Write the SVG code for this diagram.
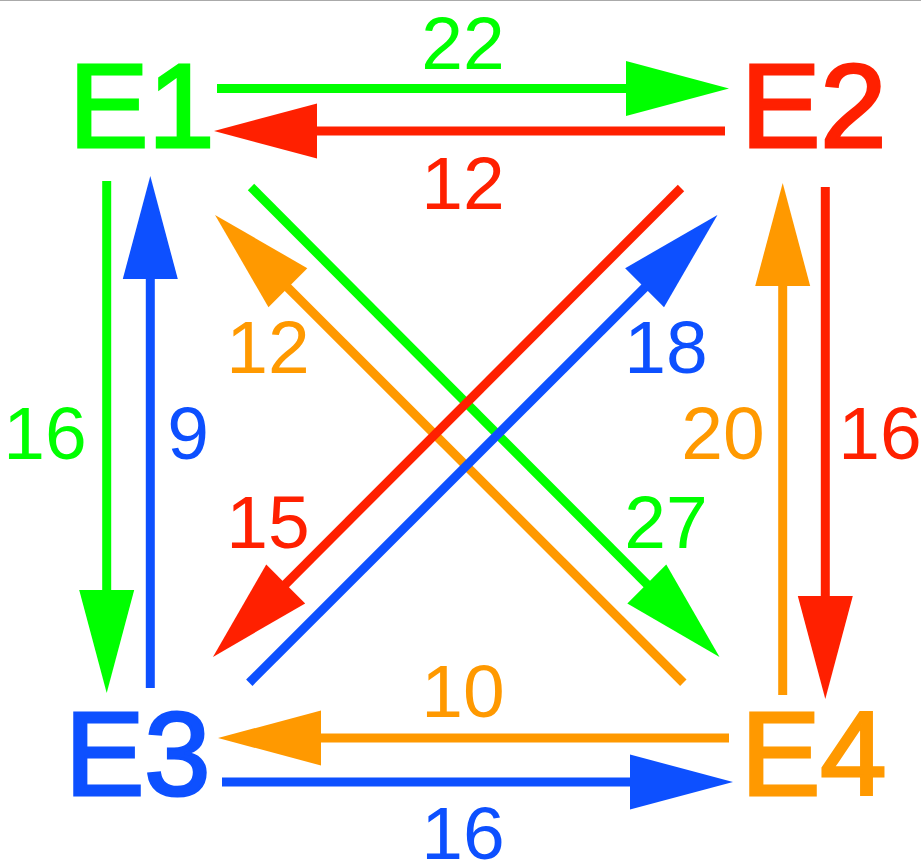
<svg xmlns="http://www.w3.org/2000/svg" width="921" height="861" viewBox="0 0 921 861">
<style>
.g{fill:#00ff00}.r{fill:#ff2000}.b{fill:#0d50ff}.o{fill:#ff9900}
.node{font-family:"Liberation Sans",Arial,sans-serif;font-size:119px;stroke-width:3;stroke-linejoin:miter}
.lbl{font-family:"Liberation Sans",Arial,sans-serif;font-size:75px;text-anchor:middle}
.c{fill:none;stroke-width:9;stroke-linecap:butt}
.cg{stroke:#00ff00;marker-end:url(#hg)}.cr{stroke:#ff2000;marker-end:url(#hr)}
.cb{stroke:#0d50ff;marker-end:url(#hb)}.co{stroke:#ff9900;marker-end:url(#ho)}
</style>
<defs>
<marker id="hg" markerUnits="userSpaceOnUse" markerWidth="110" markerHeight="60" refX="0" refY="0" viewBox="-2 -30 106 60" orient="auto" overflow="visible"><path d="M-1,-27.5L102,0L-1,27.5Z" fill="#00ff00"/></marker>
<marker id="hr" markerUnits="userSpaceOnUse" markerWidth="110" markerHeight="60" refX="0" refY="0" viewBox="-2 -30 106 60" orient="auto" overflow="visible"><path d="M-1,-27.5L102,0L-1,27.5Z" fill="#ff2000"/></marker>
<marker id="hb" markerUnits="userSpaceOnUse" markerWidth="110" markerHeight="60" refX="0" refY="0" viewBox="-2 -30 106 60" orient="auto" overflow="visible"><path d="M-1,-27.5L102,0L-1,27.5Z" fill="#0d50ff"/></marker>
<marker id="ho" markerUnits="userSpaceOnUse" markerWidth="110" markerHeight="60" refX="0" refY="0" viewBox="-2 -30 106 60" orient="auto" overflow="visible"><path d="M-1,-27.5L102,0L-1,27.5Z" fill="#ff9900"/></marker>
</defs>
<rect width="921" height="861" fill="#ffffff"/>
<line x1="0" y1="0.5" x2="921" y2="0.5" stroke="#aaaaaa" stroke-width="1"/>
<g id="connectors">
<line class="c cg" x1="217" y1="88.5" x2="627" y2="88.5"/>
<line class="c cr" x1="725" y1="131" x2="316" y2="131"/>
<line class="c cg" x1="106.7" y1="181" x2="106.7" y2="591"/>
<line class="c cb" x1="150.3" y1="688" x2="150.3" y2="278"/>
<line class="c co" x1="782.7" y1="695" x2="782.7" y2="285"/>
<line class="c cr" x1="825.3" y1="187" x2="825.3" y2="597"/>
<line class="c co" x1="729" y1="738" x2="320" y2="738"/>
<line class="c cb" x1="222" y1="782" x2="631" y2="782"/>
<line class="c cg" x1="251" y1="187" x2="647.5" y2="584.7"/>
<line class="c co" x1="683.3" y1="682.7" x2="287.2" y2="287"/>
<line class="c cr" x1="681" y1="188" x2="285" y2="584.7"/>
<line class="c cb" x1="249.3" y1="682.7" x2="645.3" y2="287"/>
</g>
<g id="labels">
<text class="lbl g" x="463" y="69">22</text>
<text class="lbl r" x="463" y="209">12</text>
<text class="lbl g" x="45" y="459">16</text>
<text class="lbl b" x="188" y="459">9</text>
<text class="lbl o" x="268" y="373">12</text>
<text class="lbl b" x="666" y="373">18</text>
<text class="lbl r" x="268" y="548">15</text>
<text class="lbl g" x="666" y="548">27</text>
<text class="lbl o" x="723" y="459">20</text>
<text class="lbl r" x="880" y="459">16</text>
<text class="lbl o" x="463" y="717">10</text>
<text class="lbl b" x="463" y="859">16</text>
</g>
<g id="E1"><text class="node g" x="69" y="147" stroke="#00ff00">E1</text></g>
<g id="E2"><text class="node r" x="741" y="147" stroke="#ff2000">E2</text></g>
<g id="E3"><text class="node b" x="65" y="794.5" stroke="#0d50ff">E3</text></g>
<g id="E4"><text class="node o" x="741" y="794.5" stroke="#ff9900">E4</text></g>
</svg>
